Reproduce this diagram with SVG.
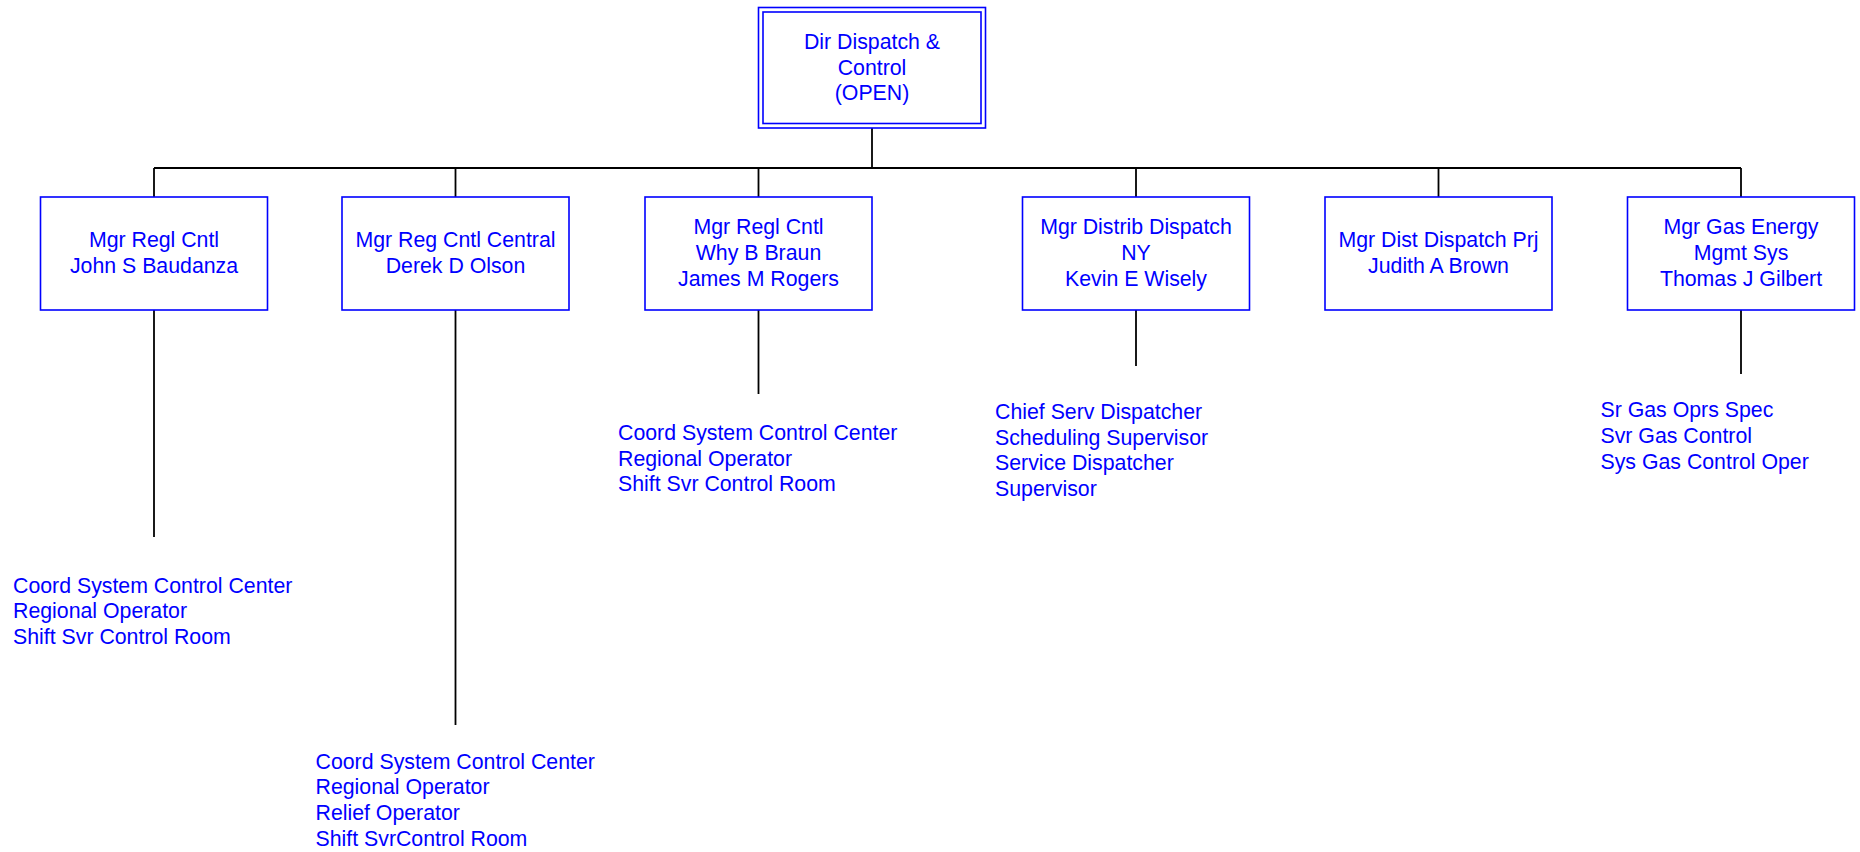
<svg xmlns="http://www.w3.org/2000/svg" width="1860" height="852" viewBox="0 0 1860 852">
<style>
.box{fill:#fff;stroke:#0000ff;stroke-width:1.6}
.t{font-family:"Liberation Sans",Arial,sans-serif;font-size:21.3px;fill:#0000ff}
.c{text-anchor:middle}
.ln{stroke:#000;stroke-width:1.8;fill:none}
</style>
<rect width="1860" height="852" fill="#fff"/>
<g id="connectors">
<line class="ln" x1="872" y1="128" x2="872" y2="168"/>
<line class="ln" x1="154" y1="168" x2="1741" y2="168"/>
<line class="ln" x1="154" y1="168" x2="154" y2="197"/>
<line class="ln" x1="455.5" y1="168" x2="455.5" y2="197"/>
<line class="ln" x1="758.5" y1="168" x2="758.5" y2="197"/>
<line class="ln" x1="1136" y1="168" x2="1136" y2="197"/>
<line class="ln" x1="1438.5" y1="168" x2="1438.5" y2="197"/>
<line class="ln" x1="1741" y1="168" x2="1741" y2="197"/>
<line class="ln" x1="154" y1="310" x2="154" y2="537"/>
<line class="ln" x1="455.5" y1="310" x2="455.5" y2="725"/>
<line class="ln" x1="758.5" y1="310" x2="758.5" y2="394"/>
<line class="ln" x1="1136" y1="310" x2="1136" y2="366"/>
<line class="ln" x1="1741" y1="310" x2="1741" y2="374"/>
</g>
<g id="dir">
<rect class="box" x="758.5" y="7.5" width="227" height="120.5"/>
<rect class="box" x="763" y="12" width="218" height="111.5"/>
<text class="t c" x="872" y="49">Dir Dispatch &amp;</text>
<text class="t c" x="872" y="75">Control</text>
<text class="t c" x="872" y="100">(OPEN)</text>
</g>
<g id="mgr1">
<rect class="box" x="40.5" y="197" width="227" height="113"/>
<text class="t c" x="154" y="247">Mgr Regl Cntl</text>
<text class="t c" x="154" y="273">John S Baudanza</text>
</g>
<g id="mgr2">
<rect class="box" x="342" y="197" width="227" height="113"/>
<text class="t c" x="455.5" y="247">Mgr Reg Cntl Central</text>
<text class="t c" x="455.5" y="273">Derek D Olson</text>
</g>
<g id="mgr3">
<rect class="box" x="645" y="197" width="227" height="113"/>
<text class="t c" x="758.5" y="234">Mgr Regl Cntl</text>
<text class="t c" x="758.5" y="260">Why B Braun</text>
<text class="t c" x="758.5" y="286">James M Rogers</text>
</g>
<g id="mgr4">
<rect class="box" x="1022.5" y="197" width="227" height="113"/>
<text class="t c" x="1136" y="234">Mgr Distrib Dispatch</text>
<text class="t c" x="1136" y="260">NY</text>
<text class="t c" x="1136" y="286">Kevin E Wisely</text>
</g>
<g id="mgr5">
<rect class="box" x="1325" y="197" width="227" height="113"/>
<text class="t c" x="1438.5" y="247">Mgr Dist Dispatch Prj</text>
<text class="t c" x="1438.5" y="273">Judith A Brown</text>
</g>
<g id="mgr6">
<rect class="box" x="1627.5" y="197" width="227" height="113"/>
<text class="t c" x="1741" y="234">Mgr Gas Energy</text>
<text class="t c" x="1741" y="260">Mgmt Sys</text>
<text class="t c" x="1741" y="286">Thomas J Gilbert</text>
</g>
<g id="staff1">
<text class="t" x="13" y="592.5">Coord System Control Center</text>
<text class="t" x="13" y="618.2">Regional Operator</text>
<text class="t" x="13" y="643.9">Shift Svr Control Room</text>
</g>
<g id="staff2">
<text class="t" x="315.5" y="768.5">Coord System Control Center</text>
<text class="t" x="315.5" y="794.2">Regional Operator</text>
<text class="t" x="315.5" y="819.9">Relief Operator</text>
<text class="t" x="315.5" y="845.6">Shift SvrControl Room</text>
</g>
<g id="staff3">
<text class="t" x="618" y="440">Coord System Control Center</text>
<text class="t" x="618" y="465.7">Regional Operator</text>
<text class="t" x="618" y="491.4">Shift Svr Control Room</text>
</g>
<g id="staff4">
<text class="t" x="995" y="419">Chief Serv Dispatcher</text>
<text class="t" x="995" y="444.7">Scheduling Supervisor</text>
<text class="t" x="995" y="470.4">Service Dispatcher</text>
<text class="t" x="995" y="496.1">Supervisor</text>
</g>
<g id="staff6">
<text class="t" x="1600.5" y="416.5">Sr Gas Oprs Spec</text>
<text class="t" x="1600.5" y="442.7">Svr Gas Control</text>
<text class="t" x="1600.5" y="468.9">Sys Gas Control Oper</text>
</g>
</svg>
